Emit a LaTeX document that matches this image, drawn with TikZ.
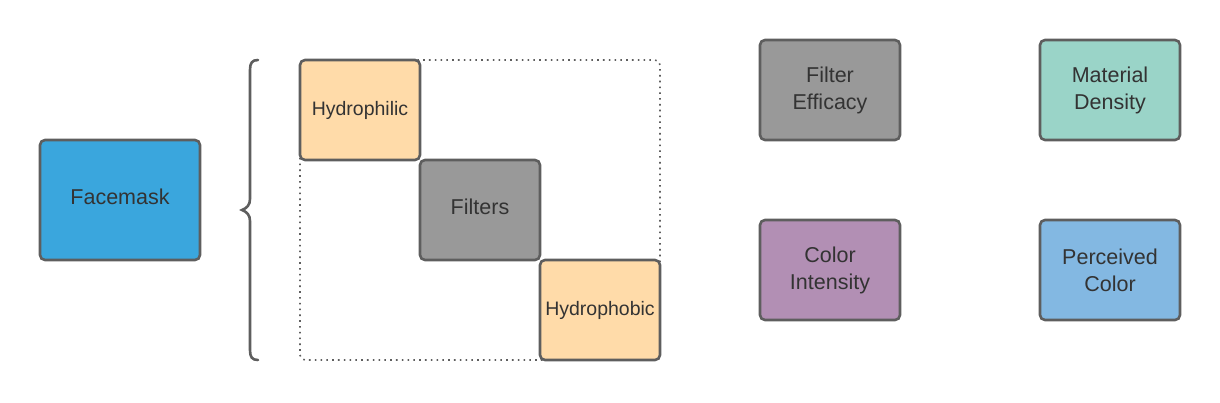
\documentclass[tikz,border=0pt]{standalone}
\usepackage{fontspec}
\setmainfont{Liberation Sans}
\definecolor{bordc}{HTML}{5E5E5E}
\definecolor{txtc}{HTML}{333333}
\definecolor{maskblue}{HTML}{3AA6DD}
\definecolor{orangec}{HTML}{FFDBA9}
\definecolor{grayc}{HTML}{999999}
\definecolor{tealc}{HTML}{9AD4C8}
\definecolor{purplec}{HTML}{B28FB4}
\definecolor{lblue}{HTML}{83B8E2}
\newcommand{\upby}[1]{\raisebox{3pt}[\height][\depth]{#1}}
\tikzset{
  box/.style={draw=bordc, line width=2.6pt, rounded corners=5pt, text=txtc,
    inner sep=0pt, align=center, font=\fontsize{21.5}{27}\selectfont},
  smallbox/.style={box, font=\fontsize{19.5}{24}\selectfont},
}
\begin{document}
\begin{tikzpicture}[x=1pt,y=-1pt]
\useasboundingbox (0,0) rectangle (1220,402);
% dotted frame
\draw[bordc, line width=1.6pt, dash pattern=on 1.6pt off 4.2pt, rounded corners=5pt]
  (300,60) rectangle (660,360);
% brace
\draw[bordc, line width=2.6pt, line cap=round]
  (258,60) .. controls (252,60) and (250,63) .. (250,70)
  -- (250,199) .. controls (250,205) and (247,208) .. (242,210)
  .. controls (247,212) and (250,215) .. (250,221)
  -- (250,350) .. controls (250,357) and (252,360) .. (258,360);
\node[box, fill=maskblue, minimum width=160pt, minimum height=120pt] (face) at (120,200) {\upby{Facemask}};
\node[smallbox, fill=orangec, minimum width=120pt, minimum height=100pt] (hphil) at (360,110) {Hydrophilic};
\node[box, fill=grayc, minimum width=120pt, minimum height=100pt] (filt) at (480,210) {\upby{Filters}};
\node[smallbox, fill=orangec, minimum width=120pt, minimum height=100pt] (hphob) at (600,310) {Hydrophobic};
\node[box, fill=grayc, minimum width=140pt, minimum height=100pt] (eff) at (830,90) {Filter\\Efficacy};
\node[box, fill=tealc, minimum width=140pt, minimum height=100pt] (dens) at (1110,90) {Material\\Density};
\node[box, fill=purplec, minimum width=140pt, minimum height=100pt] (cint) at (830,270) {Color\\Intensity};
\node[box, fill=lblue, minimum width=140pt, minimum height=100pt] (pcol) at (1110,270) {Perceived\\Color};
\end{tikzpicture}
\end{document}
